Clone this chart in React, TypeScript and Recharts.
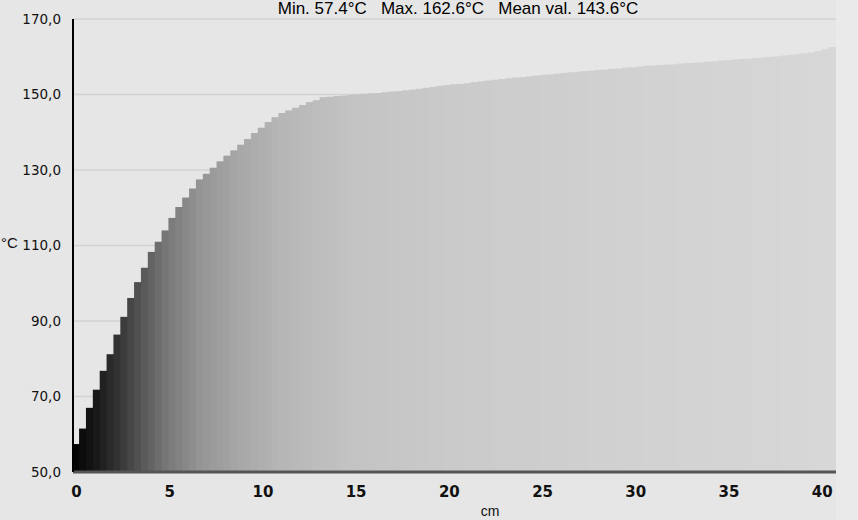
import React from 'react';
import { BarChart, Bar, XAxis, YAxis, CartesianGrid, Cell, Customized, ReferenceLine } from 'recharts';

// Temperature per sample (°C), left to right
const temps: number[] = [
  57.4, 61.5, 67.0, 71.8, 76.8, 81.2, 86.4, 91.1, 96.1, 100.3,
  104.1, 108.3, 111.0, 114.0, 117.3, 120.2, 122.7, 125.1, 127.5, 129.0,
  130.6, 132.3, 133.8, 135.2, 136.7, 138.2, 139.8, 141.2, 142.7, 144.0,
  145.1, 145.8, 146.5, 147.2, 148.0, 148.5, 149.3, 149.4, 149.6, 149.7,
  149.9, 150.0, 150.2, 150.3, 150.4, 150.6, 150.8, 150.9, 151.1, 151.3,
  151.5, 151.8, 152.0, 152.3, 152.5, 152.7, 152.8, 153.0, 153.3, 153.5,
  153.7, 153.9, 154.1, 154.3, 154.5, 154.6, 154.8, 155.0, 155.2, 155.3,
  155.5, 155.7, 155.9, 156.0, 156.2, 156.3, 156.5, 156.6, 156.8, 156.9,
  157.1, 157.2, 157.4, 157.6, 157.7, 157.8, 157.9, 158.0, 158.2, 158.3,
  158.4, 158.5, 158.7, 158.8, 159.0, 159.1, 159.3, 159.4, 159.5, 159.7,
  159.8, 160.0, 160.1, 160.3, 160.5, 160.7, 160.9, 161.1, 161.5, 162.0,
  162.6,
];

// sample spacing along the profile (cm per sample)
const CM_PER_SAMPLE = 40 / 108.5;
const xTicksCm: number[] = [0, 5, 10, 15, 20, 25, 30, 35, 40];
const yTicks: number[] = [50, 70, 90, 110, 130, 150, 170];
const title = 'Min. 57.4°C   Max. 162.6°C   Mean val. 143.6°C';

const data = temps.map((t, i) => ({ i, t }));
const xTickPos = xTicksCm.map((c) => c / CM_PER_SAMPLE);

// grayscale shading along the profile (style only)
const shadeAnchors: [number, number][] = [
  [0, 5], [3, 25], [6, 50], [9, 80], [13, 118], [18, 148], [24, 168],
  [30, 182], [40, 195], [55, 202], [80, 209], [110, 215],
];
function shade(idx: number): string {
  let g = shadeAnchors[shadeAnchors.length - 1][1];
  for (let k = 0; k < shadeAnchors.length - 1; k++) {
    const [a, ga] = shadeAnchors[k];
    const [b, gb] = shadeAnchors[k + 1];
    if (idx >= a && idx <= b) {
      g = ga + ((gb - ga) * (idx - a)) / (b - a);
      break;
    }
  }
  const v = Math.round(g);
  return `rgb(${v},${v},${v})`;
}

const fmtY = (v: number) => v.toFixed(1).replace('.', ',');
const fmtX = (v: number) => String(Math.round(v * CM_PER_SAMPLE));

// bar shape widened slightly so neighbouring samples touch without seams
const SolidBar = (props: any) => {
  const { x, y, width, height, fill } = props;
  if (!height || height <= 0) return null;
  return <rect x={x - 0.8} y={y} width={width + 1.6} height={height} fill={fill} />;
};

export default function App() {
  return (
    <div
      style={{
        position: 'absolute',
        left: 0,
        top: 0,
        width: 858,
        height: 520,
        background: '#e6e6e6',
        overflow: 'hidden',
      }}
    >
      <div
        style={{
          position: 'absolute',
          left: 836,
          top: 0,
          width: 22,
          height: 520,
          background: '#eaeaea',
        }}
      />
      <BarChart
        width={858}
        height={520}
        data={data}
        margin={{ top: 19, right: 22, bottom: 18, left: 0 }}
        barSize={7}
      >
        <CartesianGrid vertical={false} stroke="#d2d2d2" strokeWidth={1.5} />
        <XAxis
          dataKey="i"
          type="number"
          domain={[-0.5, temps.length - 0.5]}
          ticks={xTickPos}
          tickFormatter={fmtX}
          allowDataOverflow
          height={30}
          axisLine={false}
          tickLine={false}
          interval={0}
          tick={{ fill: '#111', fontSize: 15, fontWeight: 'bold', fontFamily: 'DejaVu Sans' }}
          tickMargin={8}
        />
        <YAxis
          domain={[50, 170]}
          ticks={yTicks}
          width={73}
          tickFormatter={fmtY}
          axisLine={{ stroke: '#000', strokeWidth: 2 }}
          tickLine={false}
          tickMargin={6}
          tick={{ fill: '#111', fontSize: 13.5, fontFamily: 'DejaVu Sans' }}
        />
        <Bar dataKey="t" isAnimationActive={false} shape={SolidBar}>
          {data.map((d) => (
            <Cell key={d.i} fill={shade(d.i)} />
          ))}
        </Bar>
        <ReferenceLine y={50} stroke="#555" strokeWidth={3} />
        <Customized
          component={() => (
            <g>
              <text
                x={458}
                y={14}
                textAnchor="middle"
                fontFamily="Liberation Sans, Arial, sans-serif"
                fontSize={17}
                fill="#000"
                style={{ whiteSpace: 'pre' }}
              >
                {title}
              </text>
              <text x={1} y={248} fontFamily="Liberation Sans, Arial, sans-serif" fontSize={15} fill="#111">
                °C
              </text>
              <text
                x={490}
                y={516}
                textAnchor="middle"
                fontFamily="Liberation Sans, Arial, sans-serif"
                fontSize={14}
                fill="#111"
              >
                cm
              </text>
            </g>
          )}
        />
      </BarChart>
    </div>
  );
}
